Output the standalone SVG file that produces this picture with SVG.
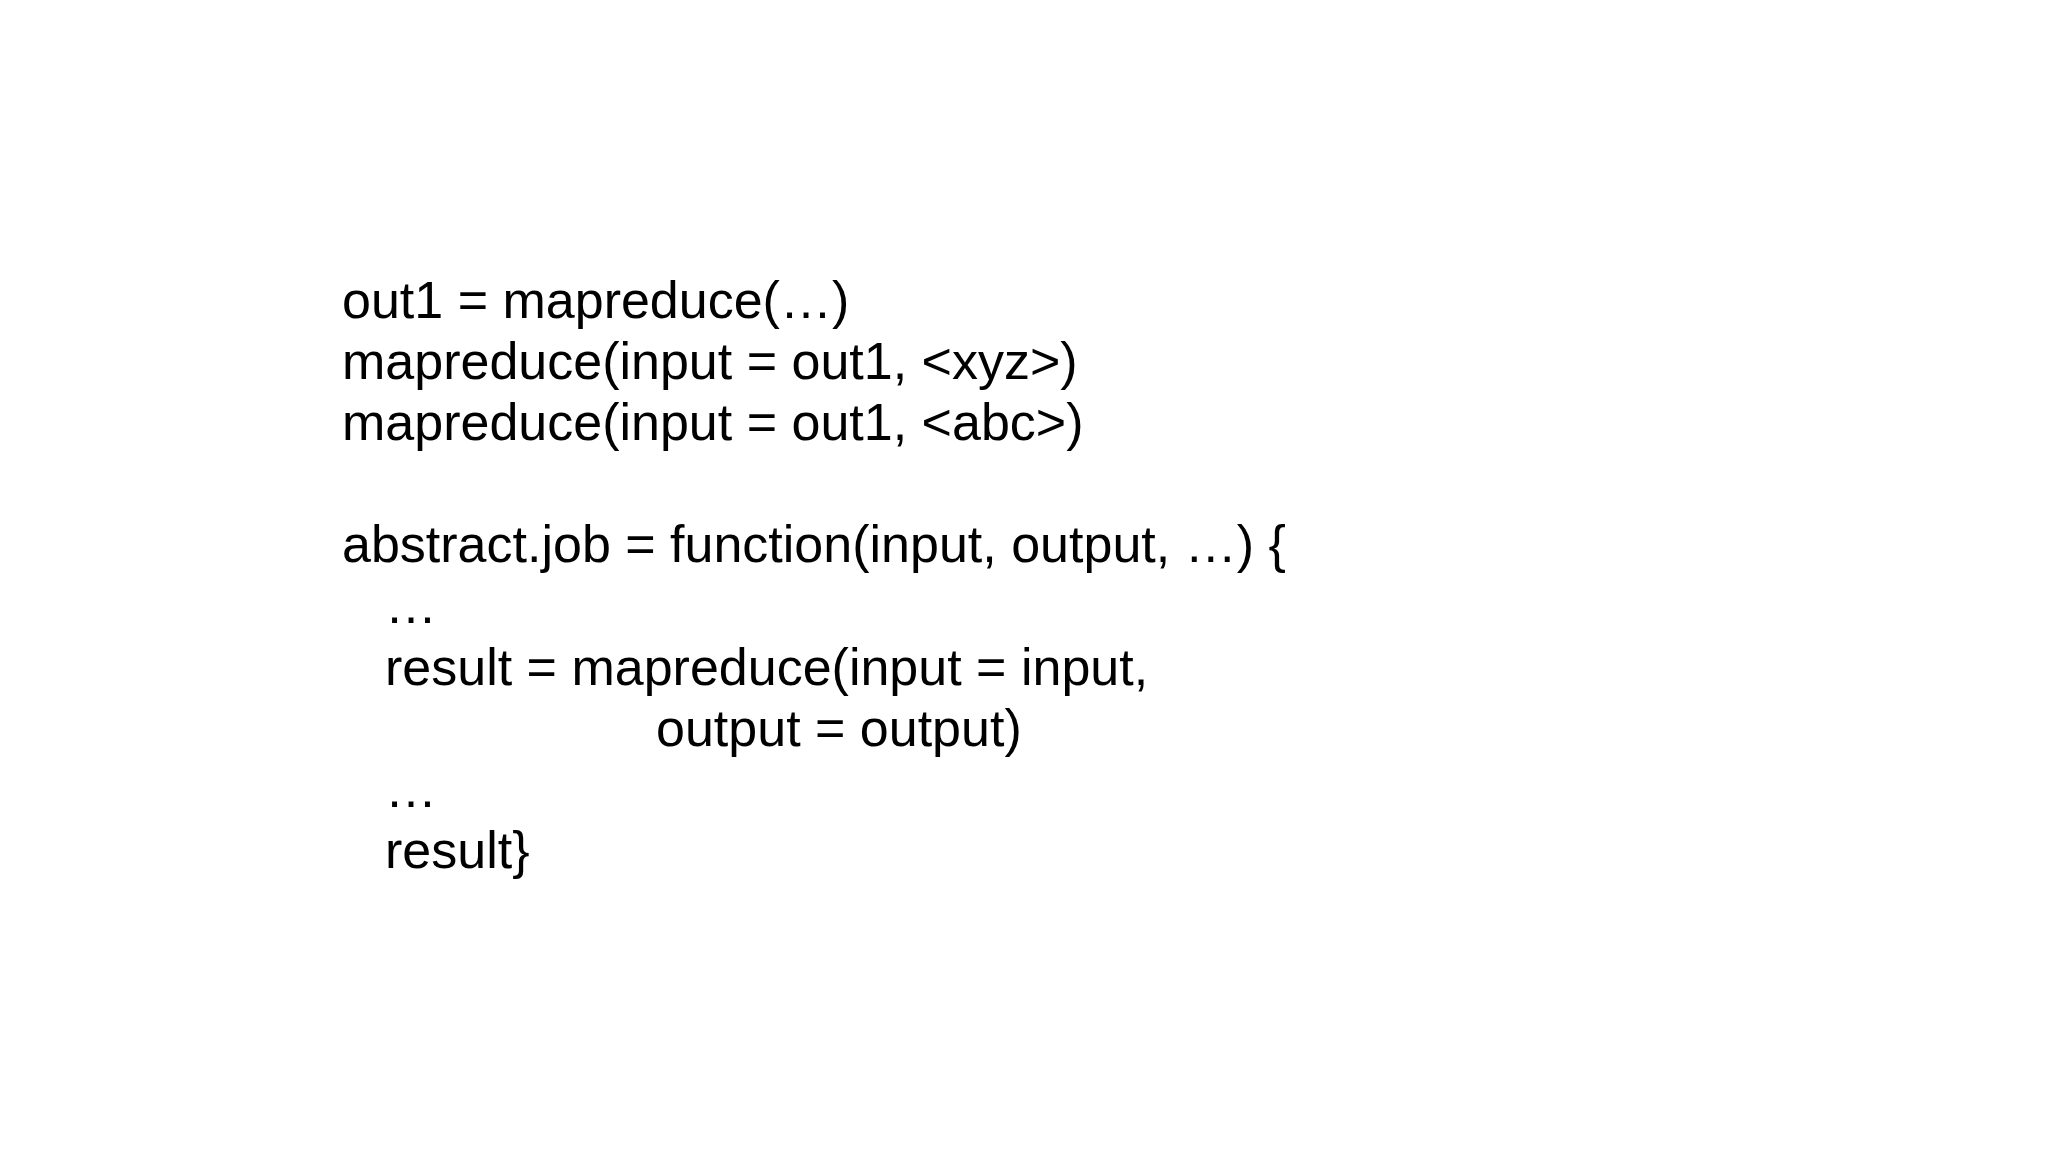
<svg xmlns="http://www.w3.org/2000/svg" width="2048" height="1152" viewBox="0 0 2048 1152">
<style>text{font-family:"Liberation Sans",Arial,sans-serif;font-size:52px;fill:#000}</style>
<rect width="2048" height="1152" fill="#fff"/>
<g id="code">
<text x="342" y="318">out1 = mapreduce(…)</text>
<text x="342" y="379">mapreduce(input = out1, &lt;xyz&gt;)</text>
<text x="342" y="440">mapreduce(input = out1, &lt;abc&gt;)</text>
<text x="342" y="562">abstract.job = function(input, output, …) {</text>
<text x="385" y="623">…</text>
<text x="385" y="685">result = mapreduce(input = input,</text>
<text x="656" y="746">output = output)</text>
<text x="385" y="807">…</text>
<text x="385" y="868">result}</text>
</g>
</svg>
